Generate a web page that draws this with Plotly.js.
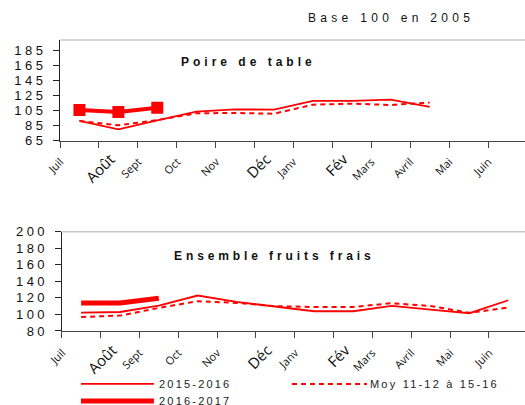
<!DOCTYPE html>
<html>
<head>
<meta charset="utf-8">
<script src="https://cdn.plot.ly/plotly-3.0.1.min.js"></script>
<style>
html, body { margin: 0; padding: 0; background: #fff; }
#chart { width: 525px; height: 405px; position: relative; }
.mlabel { position: absolute; width: 200px; text-align: right; white-space: nowrap;
  transform-origin: 100% 50%; transform: rotate(-45deg); line-height: 1;
  font-family: 'Open Sans', sans-serif; color: #111; z-index: 5; }
</style>
</head>
<body>
<div id="chart"></div>
<script>
// Categories (month labels) and series values
const months = ['Juil', 'Août', 'Sept', 'Oct', 'Nov', 'Déc', 'Janv', 'Fév', 'Mars', 'Avril', 'Mai', 'Juin'];
const bigLabels = ['Août', 'Déc', 'Fév'];

// Poire de table
const poire1516 = [91.3, 80.2, 92, 103.7, 106.8, 106.4, 118, 118.2, 119.7, 110];
const poireMoy  = [91.3, 85.5, 92.5, 101.5, 102, 101, 113, 114.4, 112.6, 115.8];
const poire1617 = [106, 103.3, 109];

// Ensemble fruits frais
const fruits1516 = [102.3, 103, 110.8, 122.9, 115.2, 110, 103.9, 103.9, 110.3, 105.9, 101.5, 117.2];
const fruitsMoy  = [97, 98.6, 108, 116, 114, 110, 109, 109, 113.6, 110.3, 102, 108.3];
const fruits1617 = [114, 113.8, 119.6];

// Tick labels
const poireYTicks = [65, 85, 105, 125, 145, 165, 185];
const fruitsYTicks = [80, 100, 120, 140, 160, 180, 200];

const legendNames = ['2015-2016', 'Moy 11-12 à 15-16', '2016-2017'];

const red = '#ff0000';
const sp = (t, px) => '<span style="letter-spacing:' + px + 'px">' + t + '</span>';
// points sit in the middle of each month band
const xc = (arr) => arr.map((_, i) => i + 0.5);

const traces = [
  { x: xc(poire1516), y: poire1516, xaxis: 'x', yaxis: 'y', mode: 'lines',
    line: { color: red, width: 1.8 }, name: legendNames[0] },
  { x: xc(poireMoy), y: poireMoy, xaxis: 'x', yaxis: 'y', mode: 'lines',
    line: { color: red, width: 2, dash: '5px,4px' }, name: legendNames[1] },
  { x: xc(poire1617), y: poire1617, xaxis: 'x', yaxis: 'y', mode: 'lines+markers',
    line: { color: red, width: 4 }, marker: { symbol: 'square', size: 12, color: red },
    name: legendNames[2] },
  { x: xc(fruits1516), y: fruits1516, xaxis: 'x2', yaxis: 'y2', mode: 'lines',
    line: { color: red, width: 1.8 }, name: legendNames[0] },
  { x: xc(fruitsMoy), y: fruitsMoy, xaxis: 'x2', yaxis: 'y2', mode: 'lines',
    line: { color: red, width: 2, dash: '5px,4px' }, name: legendNames[1] },
  { x: xc(fruits1617), y: fruits1617, xaxis: 'x2', yaxis: 'y2', mode: 'lines',
    line: { color: red, width: 5 }, name: legendNames[2] }
];

const xCommon = {
  tickmode: 'array', tickvals: months.map((_, i) => i), ticktext: months,
  showticklabels: false, ticks: 'outside', ticklen: 6, tickcolor: '#444',
  showline: true, linecolor: '#444', linewidth: 1, showgrid: false, zeroline: false,
  fixedrange: true
};
const yCommon = {
  tickmode: 'array',
  ticks: 'outside', ticklen: 6, tickcolor: '#222', showline: true, linecolor: '#222',
  linewidth: 1, showgrid: false, zeroline: false, ticklabelstandoff: 4,
  tickfont: { family: 'Liberation Sans, Arial, sans-serif', size: 13, color: '#111' },
  fixedrange: true
};

const lblFont = { family: 'Liberation Sans, Arial, sans-serif', size: 11, color: '#222' };

const layout = {
  width: 525, height: 405,
  margin: { l: 60, r: 0, t: 40, b: 74, pad: 0 },
  paper_bgcolor: '#fff', plot_bgcolor: '#fff',
  showlegend: false,
  xaxis: Object.assign({}, xCommon, { domain: [0, 1], range: [0, 11.95], anchor: 'y' }),
  yaxis: Object.assign({}, yCommon, { domain: [0.654, 1], range: [65, 199.3],
    tickvals: poireYTicks, ticktext: poireYTicks.map(v => sp(v, 3.5)), anchor: 'x' }),
  xaxis2: Object.assign({}, xCommon, { domain: [0.0037, 1], range: [0, 11.93], anchor: 'y2' }),
  yaxis2: Object.assign({}, yCommon, { domain: [0, 0.341], range: [80, 200],
    tickvals: fruitsYTicks, ticktext: fruitsYTicks.map(v => sp(v, 3.5)), anchor: 'x2' }),
  shapes: [
    { type: 'line', xref: 'x domain', yref: 'y domain', x0: 0, x1: 1, y0: 1, y1: 1,
      line: { color: '#c8c8c8', width: 1.5 } },
    { type: 'line', xref: 'x2 domain', yref: 'y2 domain', x0: 0, x1: 1, y0: 1, y1: 1,
      line: { color: '#c8c8c8', width: 1.5 } },
    // legend samples
    { type: 'line', xref: 'paper', yref: 'paper', x0: 0.045, x1: 0.202, y0: -0.182, y1: -0.182,
      line: { color: red, width: 1.8 } },
    { type: 'line', xref: 'paper', yref: 'paper', x0: 0.499, x1: 0.660, y0: -0.182, y1: -0.182,
      line: { color: red, width: 2, dash: '5px,4px' } },
    { type: 'line', xref: 'paper', yref: 'paper', x0: 0.045, x1: 0.202, y0: -0.2405, y1: -0.2405,
      line: { color: red, width: 5 } }
  ],
  annotations: [
    { text: sp('Base 100 en 2005', 4.3), xref: 'paper', yref: 'paper', x: 0.712, y: 1.0756,
      xanchor: 'center', yanchor: 'middle', showarrow: false,
      font: { family: 'Liberation Sans, Arial, sans-serif', size: 12, color: '#111' } },
    { text: '<b>' + sp('Poire de table', 4.0) + '</b>', xref: 'paper', yref: 'paper', x: 0.406, y: 0.924,
      xanchor: 'center', yanchor: 'middle', showarrow: false,
      font: { family: 'Liberation Sans, Arial, sans-serif', size: 12, color: '#111' } },
    { text: '<b>' + sp('Ensemble fruits frais', 3.9) + '</b>', xref: 'paper', yref: 'paper', x: 0.462, y: 0.258,
      xanchor: 'center', yanchor: 'middle', showarrow: false,
      font: { family: 'Liberation Sans, Arial, sans-serif', size: 12, color: '#111' } },
    { text: sp(legendNames[0], 2.2), xref: 'paper', yref: 'paper', x: 0.2086, y: -0.182,
      xanchor: 'left', yanchor: 'middle', showarrow: false, font: lblFont },
    { text: sp(legendNames[1], 2.2), xref: 'paper', yref: 'paper', x: 0.6624, y: -0.182,
      xanchor: 'left', yanchor: 'middle', showarrow: false, font: lblFont },
    { text: sp(legendNames[2], 2.2), xref: 'paper', yref: 'paper', x: 0.2086, y: -0.2405,
      xanchor: 'left', yanchor: 'bottom', yshift: -8, showarrow: false, font: lblFont }
  ]
};

// Rotated month labels placed with the axes' own scales
function drawMonthLabels(gd) {
  const fl = gd._fullLayout;
  const host = document.getElementById('chart');
  host.querySelectorAll('.mlabel').forEach(n => n.remove());
  [['xaxis', 'yaxis'], ['xaxis2', 'yaxis2']].forEach(([xn, yn]) => {
    const xa = fl[xn], ya = fl[yn];
    const axisY = ya._offset + ya._length;
    months.forEach((m, i) => {
      const big = bigLabels.includes(m);
      const size = big ? 15 : 11;
      const px = xa._offset + xa.l2p(i) + (big ? 13 : 1);
      const py = axisY + (big ? 16 : 19);
      const d = document.createElement('div');
      d.className = 'mlabel';
      d.textContent = m;
      d.style.fontSize = size + 'px';
      d.style.height = size + 'px';
      d.style.left = (px - 200) + 'px';
      d.style.top = (py - size / 2) + 'px';
      host.appendChild(d);
    });
  });
}

Plotly.newPlot('chart', traces, layout, { staticPlot: true, displayModeBar: false })
  .then(gd => drawMonthLabels(gd));
</script>
</body>
</html>
